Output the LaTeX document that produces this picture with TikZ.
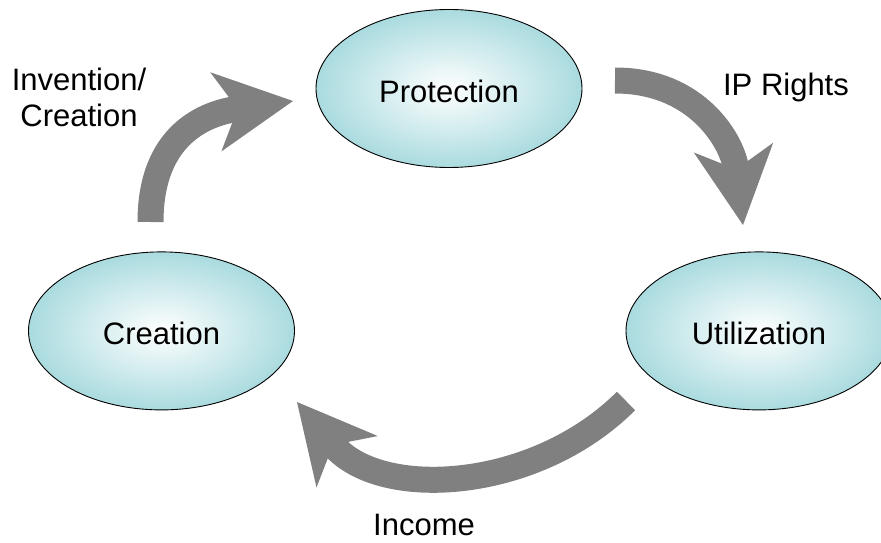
\documentclass[tikz,border=0pt]{standalone}
\usepackage{fontspec}
\setmainfont{Liberation Sans}
\usetikzlibrary{arrows.meta,positioning,shapes.geometric}
\definecolor{ovalcyan}{RGB}{170,219,223}

\begin{document}
\begin{tikzpicture}[
  x=1pt, y=1pt,
  oval/.style = {ellipse, draw=black, line width=0.9pt,
                 inner color=white, outer color=ovalcyan,
                 minimum width=266pt, minimum height=158pt, inner sep=0pt,
                 text height=28pt, text depth=0pt,
                 font=\fontsize{31}{36}\selectfont},
  flow/.style = {line width=26pt, black!50,
                 -{Stealth[length=78pt, width=80pt, inset=22pt, line width=0pt]}},
  lbl/.style  = {font=\fontsize{31}{36}\selectfont, align=center}
]
\useasboundingbox (0,0) rectangle (881,542);

%% ─── Stages of the cycle ────────────────────────────────────────
\node[oval] (protection) at (449,453.5) {Protection};
\node[oval, below=83.5pt of protection, xshift=-287.5pt] (creation) {Creation};
\node[oval, below=83.5pt of protection, xshift=310pt] (utilization) {Utilization};

%% ─── Arrow ends (the arrows float between the ovals) ────────────
\coordinate (inv-tail) at (150.5,320);
\coordinate (inv-tip)  at (293,441);
\coordinate (ip-tail)  at (615,461.5);
\coordinate (ip-tip)   at (743,317);
\coordinate (inc-tail) at (626,141);
\coordinate (inc-tip)  at (297,140);

%% ─── Curved block arrows ────────────────────────────────────────
\draw[flow] (inv-tail) to[out=90, in=188, looseness=1.2] (inv-tip);
\draw[flow] (ip-tail)  to[out=0, in=97, looseness=1.1]   (ip-tip);
\draw[flow] (inc-tail) to[out=225, in=310]               (inc-tip);

%% ─── Arrow labels ───────────────────────────────────────────────
\node[lbl] (invention) at (79,445)    {Invention/\\Creation};
\node[lbl] (iprights)  at (786,454.7) {IP Rights};
\node[lbl] (income)    at (424,17.5)  {Income};

\end{tikzpicture}
\end{document}
